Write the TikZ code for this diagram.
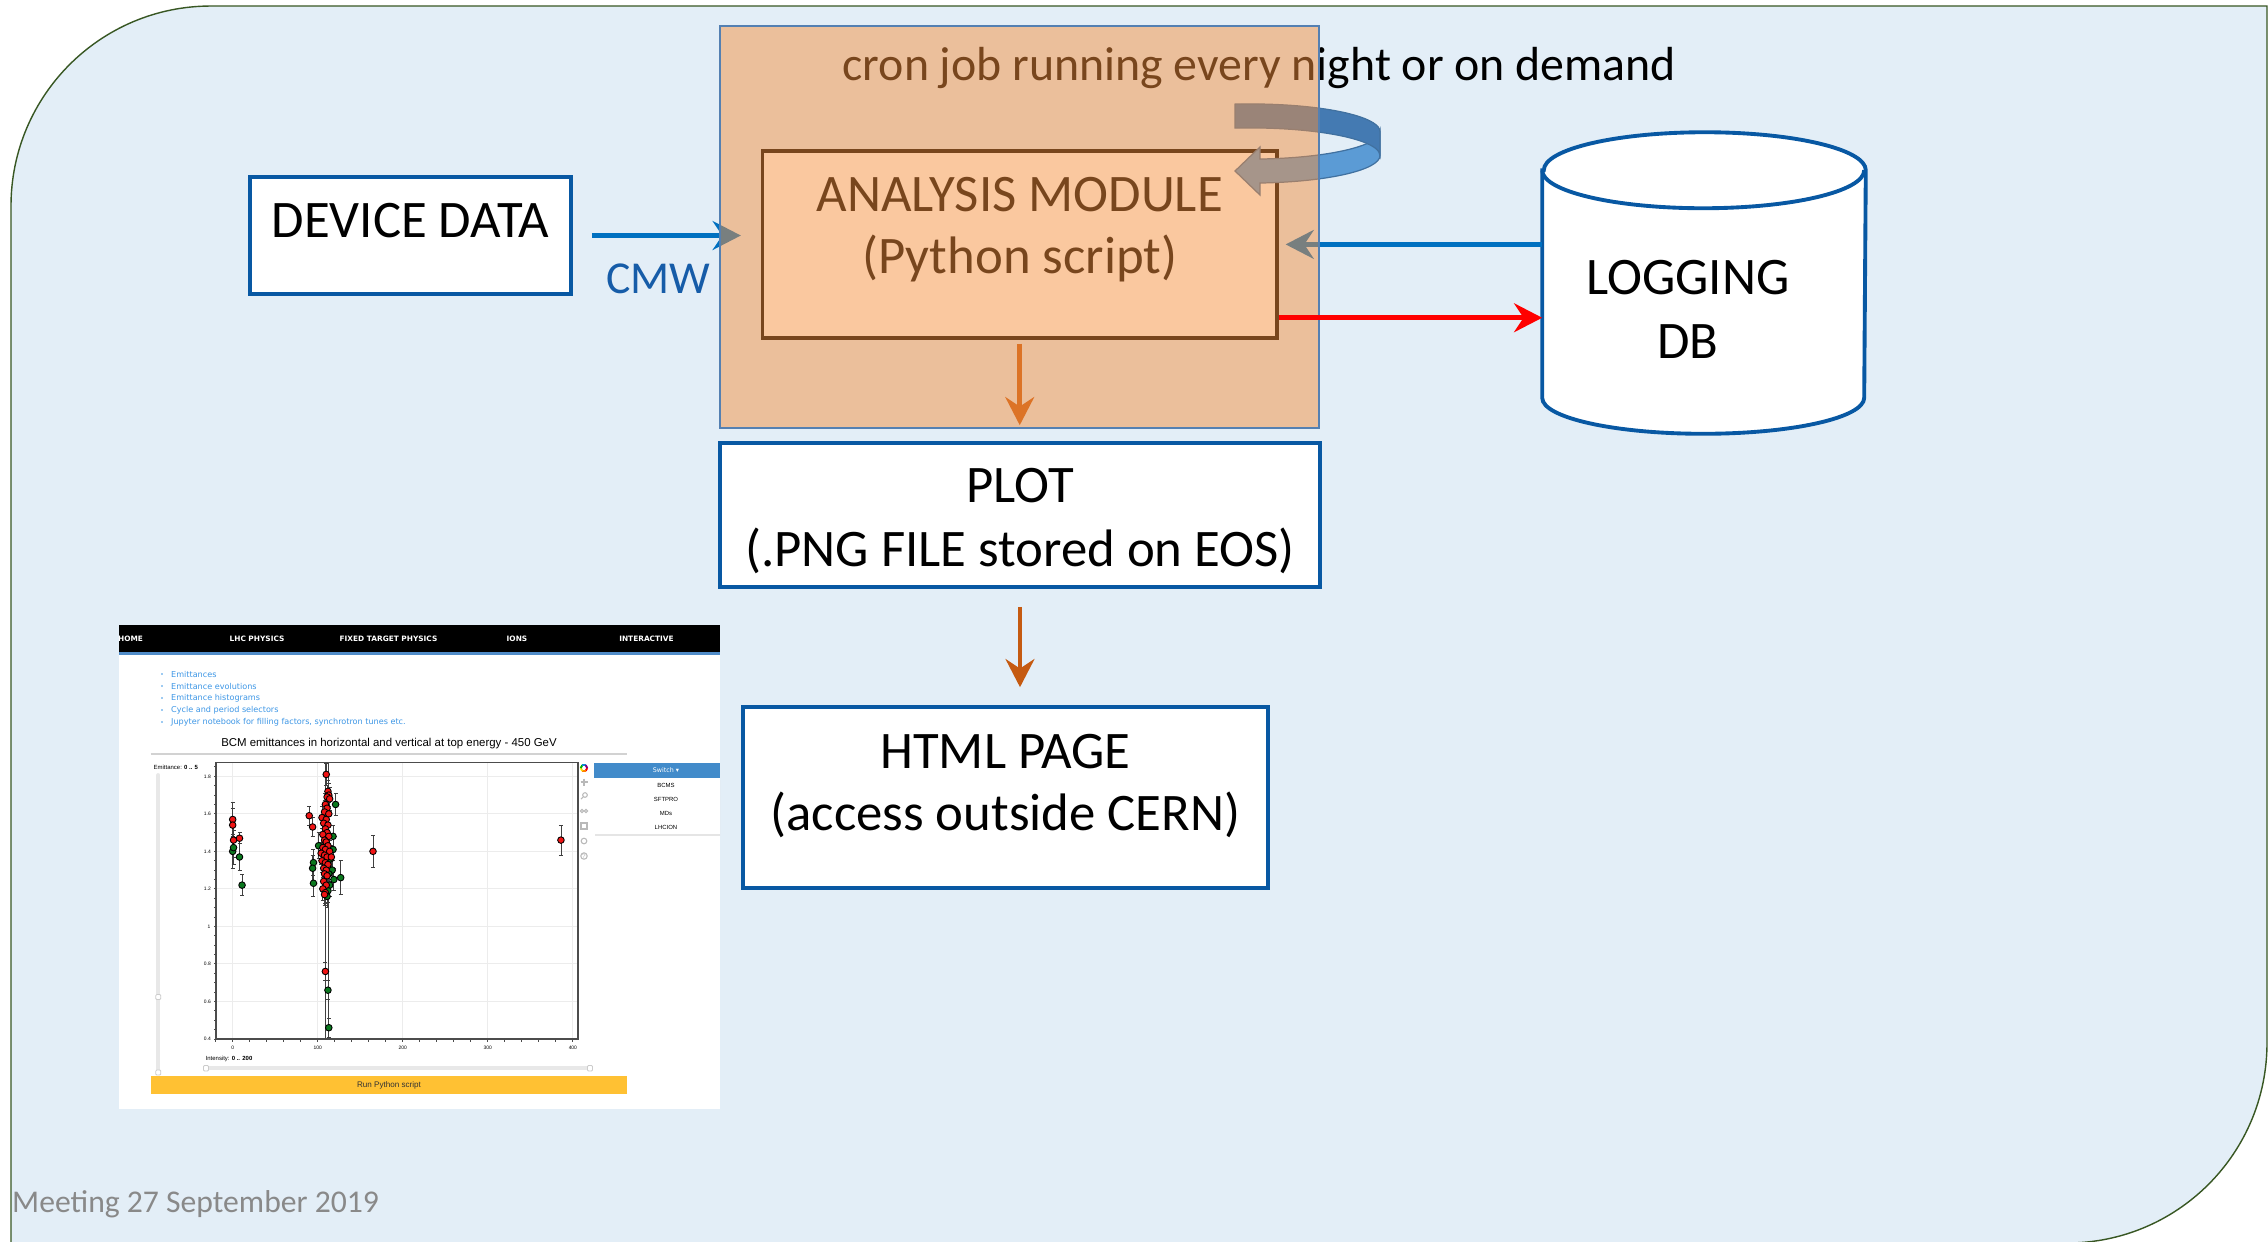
\documentclass[tikz,border=0pt]{standalone}
\usepackage{fontspec}
\setmainfont{Carlito}
\newfontfamily\websans{Liberation Sans}
\newfontfamily\webverd{DejaVu Sans}
\usetikzlibrary{arrows.meta}

\definecolor{slidebg}{RGB}{227,238,247}
\definecolor{slideedge}{RGB}{56,87,35}
\definecolor{boxblue}{RGB}{8,88,163}
\definecolor{linkblue}{RGB}{0,112,192}
\definecolor{cmwblue}{RGB}{22,92,168}
\definecolor{cronorange}{RGB}{245,143,61}
\definecolor{cronedge}{RGB}{84,128,178}
\definecolor{ringfront}{RGB}{91,155,213}
\definecolor{ringback}{RGB}{68,122,178}
\definecolor{ringedge}{RGB}{65,113,160}
\definecolor{pngorange}{RGB}{197,90,17}
\definecolor{footgray}{RGB}{137,137,137}
\definecolor{navblue}{RGB}{80,140,200}
\definecolor{linkcyan}{RGB}{60,150,230}
\definecolor{btnyellow}{RGB}{255,193,51}
\definecolor{ddblue}{RGB}{66,139,202}
\definecolor{ptred}{RGB}{240,20,20}
\definecolor{ptgreen}{RGB}{10,120,30}

% intensity / emittance / error / colour
\newcommand{\bcmpoints}{%
  0/1.40/0.09/ptgreen, 1/1.42/0.09/ptgreen, 8/1.37/0.07/ptgreen, 11/1.22/0.055/ptgreen,
  101/1.43/0.07/ptgreen, 95/1.34/0.07/ptgreen, 94/1.31/0.07/ptgreen, 95/1.23/0.07/ptgreen,
  121/1.65/0.06/ptgreen, 118/1.48/0.06/ptgreen, 118/1.41/0.06/ptgreen, 115/1.36/0.06/ptgreen,
  117/1.30/0.06/ptgreen, 119/1.25/0.06/ptgreen, 127/1.26/0.09/ptgreen, 114/1.22/0.06/ptgreen,
  113/1.28/0.06/ptgreen, 112/1.19/0.06/ptgreen, 111/1.16/0.06/ptgreen, 112/0.66/0.05/ptgreen,
  113/0.46/0.05/ptgreen,
  0/1.57/0.09/ptred, 0/1.54/0.09/ptred, 1/1.46/0.09/ptred, 8/1.47/0.03/ptred,
  90/1.59/0.05/ptred, 94/1.53/0.05/ptred, 110/1.81/0.06/ptred, 112/1.72/0.06/ptred,
  113/1.70/0.06/ptred, 111/1.69/0.06/ptred, 114/1.68/0.06/ptred, 109/1.65/0.06/ptred,
  111/1.63/0.06/ptred, 108/1.61/0.06/ptred, 113/1.60/0.06/ptred, 105/1.58/0.06/ptred,
  110/1.57/0.06/ptred, 107/1.55/0.06/ptred, 112/1.54/0.06/ptred, 109/1.52/0.06/ptred,
  111/1.50/0.06/ptred, 106/1.49/0.06/ptred, 113/1.48/0.06/ptred, 108/1.46/0.06/ptred,
  110/1.45/0.06/ptred, 112/1.43/0.06/ptred, 106/1.42/0.06/ptred, 109/1.41/0.06/ptred,
  114/1.40/0.06/ptred, 104/1.39/0.06/ptred, 108/1.38/0.06/ptred, 111/1.37/0.06/ptred,
  116/1.37/0.06/ptred, 105/1.35/0.06/ptred, 109/1.34/0.06/ptred, 112/1.33/0.06/ptred,
  107/1.31/0.06/ptred, 110/1.30/0.06/ptred, 108/1.28/0.06/ptred, 111/1.27/0.06/ptred,
  107/1.24/0.06/ptred, 110/1.22/0.06/ptred, 106/1.20/0.06/ptred, 109/1.18/0.06/ptred,
  108/1.17/0.06/ptred, 109/0.76/0.05/ptred, 165/1.40/0.085/ptred, 386/1.46/0.08/ptred}

\begin{document}
\begin{tikzpicture}[x=0.01cm, y=-0.01cm,
    flowbox/.style={draw=boxblue, line width=1pt, fill=white, inner sep=0pt},
    boxtext/.style={font=\fontsize{15}{18}\selectfont, inner sep=0pt, anchor=base},
    link/.style={line width=1.3pt, -{Stealth[length=8pt, width=8.2pt, inset=2.7pt]}},
    ringpart/.style={draw=ringedge, line width=0.35pt},
    webtext/.style={inner sep=0pt, font=\websans\fontsize{1.7}{2}\selectfont},
    navtext/.style={inner sep=0pt, text=white, font=\webverd\bfseries\fontsize{2.1}{2.5}\selectfont},
    menutext/.style={inner sep=0pt, anchor=west, text=linkcyan, font=\webverd\fontsize{2.3}{2.7}\selectfont},
    iconline/.style={draw=gray!55, line width=0.3pt},
    errbar/.style={draw=black!75, line width=0.25pt},
    bcmpt/.style={draw=black, line width=0.25pt},
    slidetrack/.style={line width=1.1pt, draw=gray!18, line cap=round},
    slidehandle/.style={draw=gray!40, fill=white, line width=0.25pt, rounded corners=0.3pt}]

  \useasboundingbox (0,0) rectangle (2268,1241);
  \clip (0,0) rectangle (2268,1241);
  \fill[white] (0,0) rectangle (2268,1241);
  \filldraw[fill=slidebg, draw=slideedge, line width=0.4pt] (11,1243) -- (11,206)
    arc[start angle=180, end angle=270, radius=200] -- (2267,6) -- (2267,1043)
    arc[start angle=0, end angle=90, radius=200] -- cycle;

  % boxes
  \node[flowbox, minimum width=3.21cm, minimum height=1.17cm] (device) at (410.5,235.5) {};
  \node[boxtext] (devicetxt) at (410.5,237) {DEVICE DATA};

  \node[draw=black, line width=1pt, fill=white, minimum width=5.14cm, minimum height=1.87cm, inner sep=0pt] (analysis) at (1019.75,244.4) {};
  \node[boxtext] (anatitle) at (1019.75,211) {ANALYSIS MODULE};
  \node[boxtext] (anasub) at (1019.75,273) {(Python script)};

  \node[flowbox, minimum width=6cm, minimum height=1.44cm] (plot) at (1020,515) {};
  \node[boxtext] (plottitle) at (1020,502) {PLOT};
  \node[boxtext] (plotsub) at (1020,566) {(.PNG FILE stored on EOS)};

  \node[flowbox, minimum width=5.25cm, minimum height=1.81cm] (html) at (1005.5,797.5) {};
  \node[boxtext] (htmltitle) at (1005.5,768) {HTML PAGE};
  \node[boxtext] (htmlsub) at (1005.5,830) {(access outside CERN)};

  % database drum
  \node[inner sep=0pt, minimum width=3.22cm, minimum height=3cm] (logdb) at (1704,283) {};
  \filldraw[draw=boxblue, line width=1.1pt, fill=white] ([yshift=-0.38cm]logdb.north west)
    -- ([yshift=0.36cm]logdb.south west) arc[start angle=180, end angle=0, x radius=161, y radius=36]
    -- ([yshift=-0.38cm]logdb.north east) arc[start angle=0, end angle=-180, x radius=161, y radius=38] -- cycle;
  \draw[boxblue, line width=1.1pt] ([yshift=-0.38cm]logdb.north west) arc[start angle=180, end angle=0, x radius=161, y radius=38];
  \node[boxtext] (dbtitle) at (1688,294) {LOGGING};
  \node[boxtext] (dbsub) at (1688,358) {DB};

  \node[anchor=base west, inner sep=0pt, font=\fontsize{13.6}{16}\selectfont] (crontxt) at (842,80) {cron job running every night or on demand};
  \node[anchor=base west, inner sep=0pt, text=cmwblue, font=\fontsize{13}{15.6}\selectfont] (cmwtxt) at (605.6,293) {CMW};

  % circular arrow
  \filldraw[ringpart, fill=ringfront] (1380,131.5) arc[start angle=0, end angle=85.6, x radius=130, y radius=27.6]
    -- (1260,147) -- (1235,171) -- (1260,195) -- (1260,183)
    arc[start angle=85.6, end angle=0, x radius=130, y radius=27.6] -- cycle;
  \filldraw[ringpart, fill=ringback] (1235,104.1) arc[start angle=263.4, end angle=360, x radius=130, y radius=27.6]
    -- (1380,155.5) arc[start angle=360, end angle=263.4, x radius=130, y radius=27.6] -- cycle;

  \draw[link, draw=linkblue, shorten <=0.19cm, shorten >=0.2cm] (device.east) -- (device.east -| analysis.west);
  \draw[link, draw=linkblue, shorten >=0.07cm] (logdb.west |- analysis.east) -- (analysis.east);
  \draw[link, draw=pngorange, shorten <=0.04cm, shorten >=0.16cm] (analysis.south) -- (analysis.south |- plot.north);

  \node[draw=cronedge, line width=0.45pt, fill=cronorange, fill opacity=0.49, minimum width=5.99cm,
        minimum height=4.02cm, inner sep=0pt] (cronbox) at (1019.5,227) {};

  \coordinate (logout) at ([yshift=-0.733cm]analysis.east);
  \draw[link, draw=red] (logout) -- (logout -| logdb.west);
  \draw[link, draw=pngorange, shorten <=0.18cm, shorten >=0.18cm] (plot.south) -- (plot.south |- html.north);

  % web page
  \begin{scope}
    \clip (119,625) rectangle (720,1109);
    \fill[white] (119,625) rectangle (720,1109);
    \fill[black] (119,625) rectangle (720,652);
    \fill[navblue] (119,652) rectangle (720,654.5);
    \foreach \x/\t [count=\n] in {130.5/HOME, 257/LHC PHYSICS, 388.5/FIXED TARGET PHYSICS, 517/IONS, 646.5/INTERACTIVE}
      \node[navtext] (nav\n) at (\x,638.3) {\t};
    \foreach \y/\t [count=\n] in {674/Emittances, 686/Emittance evolutions, 698/Emittance histograms,
        710/Cycle and period selectors, 722/{Jupyter notebook for filling factors, synchrotron tunes etc.}} {
      \fill[linkcyan] (162,\y) circle[radius=0.8];
      \node[menutext] (item\n) at (170.5,\y) {\t};
    }
    \node[webtext, font=\websans\fontsize{3.25}{3.6}\selectfont] (plothead) at (389,744) {BCM emittances in horizontal and vertical at top energy - 450 GeV};
    \draw[gray!35, line width=0.7pt] (150.6,754) -- (627,754);

    \node[webtext, anchor=west] (emitlbl) at (153,767) {Emittance: \textbf{0 .. 5}};
    \node[webtext, anchor=west] (intlbl) at (205,1059) {Intensity: \textbf{0 .. 200}};
    \draw[slidetrack] (158.3,775) -- (158.3,1072);
    \draw[slidehandle] (155.8,994.5) rectangle (160.8,999.5);
    \draw[slidehandle] (155.8,1070) rectangle (160.8,1075);
    \draw[slidetrack] (207,1068.3) -- (590,1068.3);
    \draw[slidehandle] (203.5,1065.5) rectangle (208.5,1071);
    \draw[slidehandle] (587.5,1065.5) rectangle (592.5,1071);
    \fill[btnyellow] (151,1075.5) rectangle (627,1094);
    \node[webtext, font=\websans\fontsize{2.3}{2.7}\selectfont, text=black!80] (runbtn) at (389,1085) {Run Python script};

    % plot area
    \begin{scope}[shift={(232.7,1114)}, x=0.0085cm, y=1.875cm]
      \fill[white] (-19.6,0.4) rectangle (405.8,1.873);
      \foreach \v [count=\n] in {0.4,0.6,0.8,1,1.2,1.4,1.6,1.8} {
        \draw[gray!15, line width=0.3pt] (-19.6,\v) -- (405.8,\v);
        \node[webtext, anchor=east, font=\websans\fontsize{1.4}{1.6}\selectfont] (ylab\n) at (-25,\v) {\v};
      }
      \foreach \i [count=\n] in {0,100,200,300,400} {
        \draw[gray!15, line width=0.3pt] (\i,0.4) -- (\i,1.873);
        \node[webtext, font=\websans\fontsize{1.4}{1.6}\selectfont] (xlab\n) at (\i,0.352) {\i};
      }
      \foreach \i in {-20,0,...,400}
        \draw[black!70, line width=0.25pt] (\i,0.4) -- (\i,0.386);
      \foreach \k in {0,...,29}
        \draw[black!70, line width=0.25pt] (-19.6,{0.4+\k*0.05}) -- ++(-0.025cm,0);
      \draw[errbar] (108.6,0.4) -- (108.6,1.873) (112.1,0.4) -- (112.1,1.873);
      \foreach \i/\e/\dv/\clr in \bcmpoints
        \draw[errbar] (\i,{\e-\dv}) -- (\i,{\e+\dv})
          (\i,{\e-\dv}) ++(-0.02cm,0) -- ++(0.04cm,0)
          (\i,{\e+\dv}) ++(-0.02cm,0) -- ++(0.04cm,0);
      \foreach \i/\e/\dv/\clr in \bcmpoints
        \filldraw[bcmpt, fill=\clr] (\i,\e) circle[radius=0.033cm];
      \draw[black!70, line width=0.45pt] (-19.6,0.4) rectangle (405.8,1.873);
    \end{scope}

    % tool bar
    \foreach \a/\clr in {0/red,60/orange,120/yellow!80!orange,180/green!70!black,240/cyan!70!blue,300/violet}
      \draw[\clr, line width=0.55pt] (584,768) ++(\a:3.3) arc[start angle=\a, delta angle=60, radius=3.3];
    \draw[iconline] (580.5,782) -- (587.5,782) (584,778.5) -- (584,785.5);
    \draw[iconline] (585,795) circle[radius=2.3] (583.3,796.7) -- (581,799);
    \draw[iconline] (582,811) circle[radius=1.6] (586,811) circle[radius=1.6];
    \draw[iconline] (581,823) rectangle (587,829);
    \draw[iconline] (584,841) circle[radius=2.8];
    \draw[iconline] (584,856) circle[radius=3.2];
    \node[webtext, text=gray!60, font=\websans\fontsize{1.8}{2}\selectfont] (helpq) at (584,856) {?};

    % dropdown
    \fill[black!10] (594.5,779.5) rectangle (721,836);
    \fill[white] (594,778) rectangle (720,834);
    \fill[ddblue] (594,763) rectangle (720,778);
    \node[webtext, text=white, font=\webverd\fontsize{1.8}{2}\selectfont] (switchbtn) at (666,770.5) {Switch ▾};
    \foreach \y/\t [count=\n] in {785/BCMS, 799/SFTPRO, 813/MDs, 827/LHCION}
      \node[webtext] (dd\n) at (666,\y) {\t};
  \end{scope}

  \node[anchor=base west, inner sep=0pt, text=footgray, font=\fontsize{9}{11}\selectfont] (footer) at (11.5,1212) {Meeting 27 September 2019};
\end{tikzpicture}
\end{document}
